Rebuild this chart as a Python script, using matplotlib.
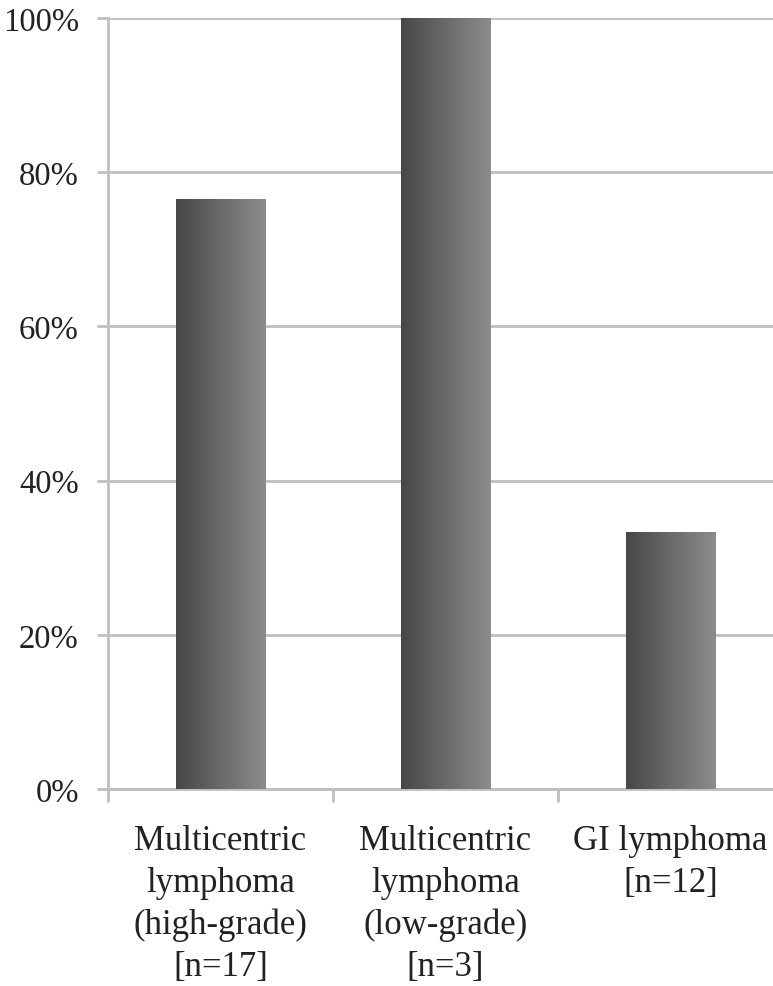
import numpy as np
import matplotlib
matplotlib.use("Agg")
import matplotlib.pyplot as plt
from matplotlib.colors import LinearSegmentedColormap

categories = [
    "Multicentric\nlymphoma\n(high-grade)\n[n=17]",
    "Multicentric\nlymphoma\n(low-grade)\n[n=3]",
    "GI lymphoma\n[n=12]",
]
values = [76.5, 100.0, 33.3]
y_ticks = [0, 20, 40, 60, 80, 100]
y_labels = ["0%", "20%", "40%", "60%", "80%", "100%"]

plt.rcParams["font.family"] = ["Liberation Serif", "DejaVu Serif"]

grid_col = "#bfbfbf"

fig = plt.figure(figsize=(7.73, 9.87), dpi=100)
ax = fig.add_axes([108 / 773, 197 / 987, 675 / 773, 771 / 987])

x = np.arange(len(categories))
bars = ax.bar(x, values, width=0.4, color="none", edgecolor="none", zorder=3)

# horizontal gradient (dark left -> light right) clipped to each bar
grad_cmap = LinearSegmentedColormap.from_list("g", ["#474747", "#6a6a6a", "#8c8c8c"])
grad = np.linspace(0, 1, 256).reshape(1, -1)
for b in bars:
    x0, w, h = b.get_x(), b.get_width(), b.get_height()
    im = ax.imshow(grad, cmap=grad_cmap, aspect="auto",
                   extent=[x0, x0 + w, 0, h], zorder=3, interpolation="bilinear")
    im.set_clip_path(b)

ax.set_xlim(-0.5, len(categories) - 0.5)
ax.set_ylim(0, 100)

ax.set_yticks(y_ticks)
ax.set_yticklabels(y_labels, fontsize=23.5, color="#222222")
ax.yaxis.grid(True, color=grid_col, linewidth=2, zorder=0)
ax.set_axisbelow(True)

ax.set_xticks(x)
ax.set_xticklabels(categories, fontsize=25, color="#222222", linespacing=1.36)
ax.set_xticks(np.arange(-0.5, len(categories), 1.0), minor=True)
ax.tick_params(axis="x", which="major", length=0, pad=25)
ax.tick_params(axis="x", which="minor", length=9, width=2, color=grid_col)
ax.tick_params(axis="y", length=8, width=2, color=grid_col, pad=13)

for side in ["top", "right"]:
    ax.spines[side].set_visible(False)
for side in ["left", "bottom"]:
    ax.spines[side].set_color(grid_col)
    ax.spines[side].set_linewidth(2)

fig.savefig("out.png", dpi=100)
